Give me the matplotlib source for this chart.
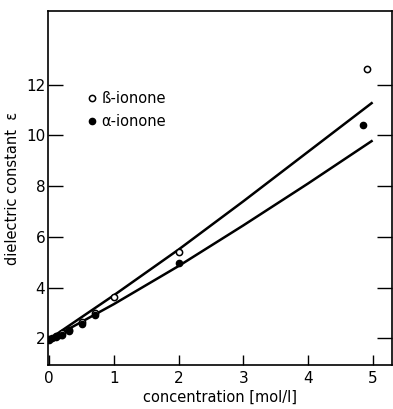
import matplotlib
matplotlib.use("Agg")
import matplotlib.pyplot as plt

# data points
beta_x = [0.0, 0.1, 0.2, 0.3, 0.5, 0.7, 1.0, 2.0, 4.92]
beta_y = [1.97, 2.1, 2.2, 2.33, 2.65, 3.0, 3.62, 5.4, 12.6]
alpha_x = [0.0, 0.05, 0.1, 0.2, 0.3, 0.5, 0.7, 2.0, 4.85]
alpha_y = [1.93, 2.0, 2.05, 2.15, 2.28, 2.55, 2.92, 4.96, 10.4]

# fitted curves
fit_x = [0, 1, 2, 3, 4, 5]
beta_fit = [1.97, 3.7, 5.5, 7.4, 9.35, 11.3]
alpha_fit = [1.95, 3.35, 4.85, 6.45, 8.1, 9.8]

xticks = [0, 1, 2, 3, 4, 5]
yticks = [2, 4, 6, 8, 10, 12]

plt.rcParams['font.family'] = ['DejaVu Sans']
fig = plt.figure(figsize=(3.93, 4.09), dpi=100)
ax = fig.add_axes([0.122, 0.1076, 0.8755, 0.8654])

ax.plot(fit_x, beta_fit, color='black', lw=1.8, solid_capstyle='butt')
ax.plot(fit_x, alpha_fit, color='black', lw=1.8, solid_capstyle='butt')
ax.plot(beta_x, beta_y, 'o', ms=4.5, mfc='white', mec='black', mew=1.1,
        label='ß-ionone', zorder=3)
ax.plot(alpha_x, alpha_y, 'o', ms=4.5, mfc='black', mec='black', mew=1.0,
        label='α-ionone', zorder=3)

ax.set_xlim(-0.02, 5.3)
ax.set_ylim(0.95, 14.9)
ax.set_xticks(xticks)
ax.set_yticks(yticks)
ax.tick_params(axis='x', direction='in', length=7, width=1, labelsize=11, pad=4)
ax.tick_params(axis='y', direction='in', length=11, width=1, labelsize=11,
               right=True, pad=2)
for s in ax.spines.values():
    s.set_linewidth(1.2)

ax.set_xlabel('concentration [mol/l]', fontsize=10.5, labelpad=3)
ax.set_ylabel('dielectric constant  ε', fontsize=10.5, labelpad=4)

leg = ax.legend(loc='upper left', bbox_to_anchor=(0.08, 0.81), frameon=False,
                handlelength=0.5, handletextpad=0.4, labelspacing=0.5,
                fontsize=10.5)

fig.savefig('out.png', dpi=100)
